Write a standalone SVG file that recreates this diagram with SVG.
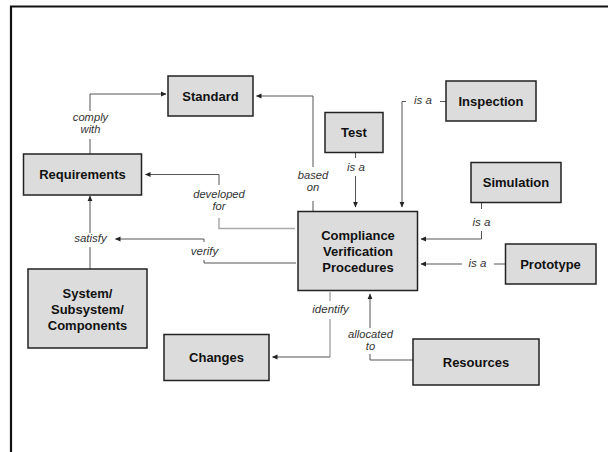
<svg xmlns="http://www.w3.org/2000/svg" width="608" height="452" viewBox="0 0 608 452">
<defs>
<marker id="ah" markerUnits="userSpaceOnUse" markerWidth="6" markerHeight="6" viewBox="0 0 6 6" refX="5" refY="3" orient="auto">
<path d="M0,0.6 L5.5,3 L0,5.4 Z" fill="#222"/>
</marker>
<style>
.box{fill:#dcdcdc;stroke:#222;stroke-width:1.5}
.bt{font-family:"Liberation Sans",Arial,sans-serif;font-weight:bold;font-size:13px;fill:#111;text-anchor:middle}
.lt{font-family:"Liberation Sans",Arial,sans-serif;font-style:italic;font-size:11.5px;fill:#333;text-anchor:middle}
.lt2{font-family:"Liberation Sans",Arial,sans-serif;font-style:italic;font-size:11.2px;fill:#333;text-anchor:middle}
.c{fill:none;stroke:#555;stroke-width:1}
.g{fill:none;stroke:#aaa;stroke-width:1.5}
</style>
</defs>
<rect width="608" height="452" fill="#fff"/>
<path d="M11,452 V6.5 H608" fill="none" stroke="#111" stroke-width="2.2"/>

<g id="connectors">
<path class="c" d="M90,154 V139 M90,111 V94 H166" marker-end="url(#ah)"/>
<path class="c" d="M313,211 V201 M313,167 V96 H256.5" marker-end="url(#ah)" stroke="#777"/>
<path class="c" d="M355.5,152.5 V158 M355.5,176 V207" marker-end="url(#ah)"/>
<path class="c" d="M446,101.5 H440 M406,101.5 H402 V207" marker-end="url(#ah)"/>
<path class="c" d="M481.5,202.5 V209 M481.5,231 V239 H421" marker-end="url(#ah)"/>
<path class="c" d="M505,264 H494 M462,264 H421" marker-end="url(#ah)"/>
<path class="g" d="M295,228.5 H219 V218"/>
<path class="c" d="M219,185 V174.5 H145.5" marker-end="url(#ah)"/>
<path class="c" d="M296,263 H204 V260 M204,242 V239 H115.5" marker-end="url(#ah)"/>
<path class="c" d="M90,269 V247 M90,233 V196" marker-end="url(#ah)"/>
<path class="g" d="M330,292 V301 M330,319 V357"/>
<path class="c" d="M330,357 H272.5" marker-end="url(#ah)"/>
<path class="c" d="M413,360 H370 V354 M370,328 V294" marker-end="url(#ah)"/>
<text class="lt2" x="90.5" y="120.5">comply</text>
<text class="lt2" x="90.5" y="133">with</text>
<text class="lt2" x="313" y="178.5">based</text>
<text class="lt2" x="313" y="191">on</text>
<text class="lt" x="356" y="171">is a</text>
<text class="lt" x="423" y="104">is a</text>
<text class="lt" x="481.5" y="226">is a</text>
<text class="lt" x="477.5" y="267">is a</text>
<text class="lt2" x="219" y="197.5">developed</text>
<text class="lt2" x="219" y="210">for</text>
<text class="lt" x="90.5" y="241.5">satisfy</text>
<text class="lt" x="204.5" y="255">verify</text>
<text class="lt" x="330.5" y="312.5">identify</text>
<text class="lt2" x="370.5" y="337.5">allocated</text>
<text class="lt2" x="370.5" y="350">to</text>
</g>

<g id="standard"><rect class="box" x="168" y="76" width="85" height="40"/><text class="bt" x="210.5" y="100.5">Standard</text></g>
<g id="requirements"><rect class="box" x="23.5" y="154" width="118" height="41"/><text class="bt" x="82.5" y="179">Requirements</text></g>
<g id="test"><rect class="box" x="325" y="112.5" width="58" height="40"/><text class="bt" x="354" y="137">Test</text></g>
<g id="inspection"><rect class="box" x="446" y="81" width="90" height="40"/><text class="bt" x="491" y="105.5">Inspection</text></g>
<g id="simulation"><rect class="box" x="471" y="162.5" width="90" height="40"/><text class="bt" x="516" y="187">Simulation</text></g>
<g id="prototype"><rect class="box" x="505.5" y="244" width="90.5" height="40"/><text class="bt" x="550.5" y="268.5">Prototype</text></g>
<g id="cvp"><rect class="box" x="298" y="211.5" width="119.5" height="79"/>
<text class="bt" x="358" y="240">Compliance</text>
<text class="bt" x="358" y="256">Verification</text>
<text class="bt" x="358" y="272">Procedures</text></g>
<g id="system"><rect class="box" x="28" y="269" width="119" height="79"/>
<text class="bt" x="87.5" y="298">System/</text>
<text class="bt" x="87.5" y="314">Subsystem/</text>
<text class="bt" x="87.5" y="330">Components</text></g>
<g id="changes"><rect class="box" x="164" y="334.5" width="105" height="46"/><text class="bt" x="216.5" y="362">Changes</text></g>
<g id="resources"><rect class="box" x="413" y="339" width="126" height="46"/><text class="bt" x="476" y="367">Resources</text></g>
</svg>
